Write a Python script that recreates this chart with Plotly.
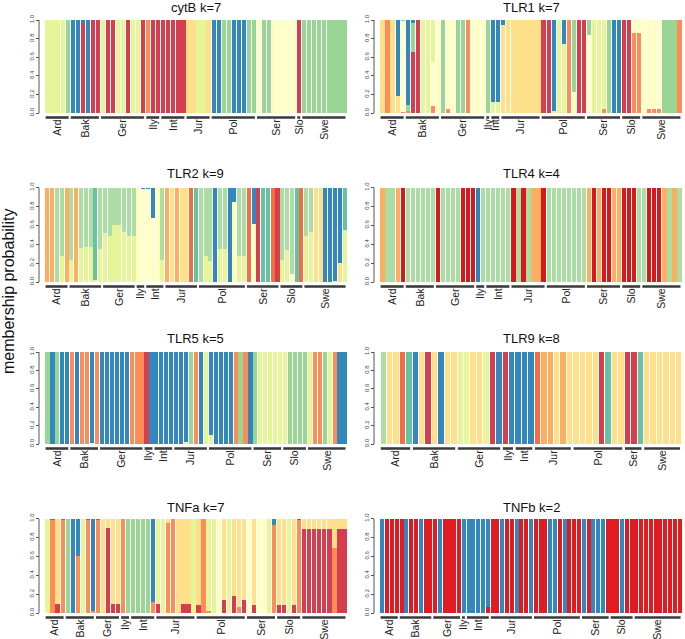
import plotly.graph_objects as go

W, H = 685, 639

# ---------------- palettes (cluster order = stacking order, bottom -> top) ----------------
PAL_K7 = {"R": "#D53E4F", "O": "#FC8D59", "Y": "#FEE08B", "P": "#FFFFBF",
          "L": "#E6F598", "G": "#99D594", "B": "#3288BD"}
PAL_K9 = {"R": "#D53E4F", "O": "#F46D43", "o": "#FDAE61", "Y": "#FEE08B", "P": "#FFFFBF",
          "L": "#E6F598", "G": "#ABDDA4", "T": "#66C2A5", "B": "#3288BD"}
PAL_K4 = {"R": "#D7191C", "O": "#FDAE61", "G": "#ABDDA4", "B": "#2B83BA"}
PAL_K5 = {"R": "#D53E4F", "O": "#FC8D59", "L": "#E6F598", "G": "#99D594", "B": "#3288BD"}
PAL_K8 = {"R": "#D53E4F", "O": "#F46D43", "o": "#FDAE61", "Y": "#FEE08B",
          "L": "#E6F598", "G": "#ABDDA4", "T": "#66C2A5", "B": "#3288BD"}
PAL_K2 = {"R": "#E01B22", "B": "#3288BD"}

# ---------------- membership data (one string per individual: cluster+share, last = remainder) ----
CYTB_BARS = ["L", "L", "L", "L", "G",
             "B", "B", "R.97 B", "B", "R", "R",
             "L", "R", "R", "L", "L", "R", "L", "L", "R",
             "O", "R", "R",
             "R", "R", "R", "R", "R",
             "Y", "Y", "L", "L", "Y",
             "B", "B", "G", "G", "B", "B", "B", "G", "G",
             "P", "G", "G", "P", "P", "P", "P", "P",
             "R",
             "G", "G", "G", "G", "G", "G", "G", "G", "G"]
CYTB_GROUPS = [("Ard", 5), ("Bak", 6), ("Ger", 9), ("Ily", 3), ("Int", 5), ("Jur", 5),
               ("Pol", 9), ("Ser", 8), ("Slo", 1), ("Swe", 9)]

TLR1_BARS = ["Y", "O", "Y", "Y.18 B", "O.01 P.98 G",
             "O.02 G.07 B", "R.66 G.31 B", "R", "L", "L", "O.07 P.48 L", "P",
             "G", "O.04 P", "P", "G", "G", "O", "P", "P", "P",
             "G",
             "L.12 B", "L.12 B",
             "Y.95 B", "Y", "Y", "Y", "Y", "Y", "Y", "Y",
             "R", "R", "L.02 B", "L", "L.74 B", "O", "P.23 G", "R", "R",
             "P.84 G", "L", "L", "O.04 L", "G", "B", "B",
             "R", "R", "O.86 P", "O.86 P",
             "P", "O.04 P", "O.04 P", "O.04 P", "G", "G", "G", "O"]
TLR1_GROUPS = [("Ard", 5), ("Bak", 7), ("Ger", 9), ("Ily", 1), ("Int", 2), ("Jur", 8),
               ("Pol", 9), ("Ser", 7), ("Slo", 4), ("Swe", 8)]

TLR2_BARS = ["o", "o", "G", "L.28 G", "o",
             "L.23 G", "o", "L.36 G", "L.37 G", "L.37 G", "L.02 T", "L.35 G",
             "L.52 G", "L.49 G", "L.60 G", "L.60 G", "L.53 G", "L.49 G", "L.49 G",
             "P", "P.98 B",
             "P.98 B", "P.68 B", "P", "L.23 G",
             "o", "Y", "o", "Y", "Y", "O", "T",
             "G", "L.27 G", "L.22 G", "B", "L.35 G", "L.35 G", "B", "P.85 B", "L.28 G", "L.27 G",
             "O", "P.61 B", "R", "T", "T", "O", "R",
             "L.23 G", "L.34 G", "P.08 G", "T", "O",
             "L.49 G", "L.53 G", "Y", "Y", "B", "B", "L.01 B", "Y.2 B", "L.55 T"]
TLR2_GROUPS = [("Ard", 5), ("Bak", 7), ("Ger", 7), ("Ily", 2), ("Int", 4), ("Jur", 7),
               ("Pol", 10), ("Ser", 7), ("Slo", 5), ("Swe", 9)]

TLR4_BARS = ["O", "G", "G", "O", "R",
             "G", "G", "G", "G", "G", "G",
             "R", "G", "G", "G", "G", "R", "R", "R",
             "B", "G",
             "G", "G", "G", "G", "G",
             "R", "G", "R", "G", "O", "O", "R",
             "G", "G", "G", "G", "G", "G", "G", "G",
             "O", "R", "O", "R", "R", "O", "O",
             "R", "R", "R", "G",
             "G", "R", "R", "R", "O", "G", "O", "G"]
TLR4_GROUPS = [("Ard", 5), ("Bak", 6), ("Ger", 8), ("Ily", 2), ("Int", 5), ("Jur", 7),
               ("Pol", 8), ("Ser", 7), ("Slo", 4), ("Swe", 8)]

TLR5_BARS = ["G", "B", "G", "B", "B",
             "O", "B", "O", "O", "L.01 B", "O",
             "B", "B", "B", "B", "B", "B", "O", "O", "O",
             "R", "B",
             "B", "B", "B", "B",
             "B", "B", "L.02 B", "G", "O", "B", "L",
             "L.1 B", "B", "B", "B", "B", "O", "G", "O", "B",
             "G", "L", "L", "L", "L", "L",
             "L", "G", "G", "G", "G",
             "L", "O", "O", "G", "L", "O", "B", "B"]
TLR5_GROUPS = [("Ard", 5), ("Bak", 6), ("Ger", 9), ("Ily", 2), ("Int", 4), ("Jur", 7),
               ("Pol", 9), ("Ser", 6), ("Slo", 5), ("Swe", 8)]

TLR9_BARS = ["G", "Y", "Y", "O", "T",
             "B", "Y", "R", "Y", "B", "Y", "Y",
             "L", "L", "Y", "Y", "L", "R", "B",
             "R", "B",
             "B", "B", "B",
             "O", "o", "o", "Y", "o", "Y",
             "Y", "Y", "Y", "Y", "R", "T", "Y", "Y",
             "R", "R", "T",
             "Y", "Y", "Y", "Y", "Y", "Y"]
TLR9_GROUPS = [("Ard", 5), ("Bak", 7), ("Ger", 7), ("Ily", 2), ("Int", 3), ("Jur", 6),
               ("Pol", 8), ("Ser", 3), ("Swe", 6)]

TNFA_BARS = ["L", "O.98 B", "R.1 Y", "O.98 B",
             "G", "B", "O.6 B", "L", "O.98 B", "O.02 B",
             "O.98 B", "Y", "R.9 Y", "R.09 Y", "R.09 Y",
             "O", "G",
             "G", "G", "G", "G", "O.12 B",
             "R.1 L", "L", "O.95 Y", "O.99 B", "Y", "R.1 Y", "R.1 Y", "L",
             "R.08 Y", "O.99 B", "O.02 L", "L", "P", "R.14 Y", "L", "R.18 Y", "O.06 Y", "R.14 Y",
             "P", "R.08 Y", "P", "P", "L", "O.93 B",
             "R.08 Y", "R.08 Y", "L", "R.08 Y", "O.98 B",
             "R.89 Y", "R.89 Y", "R.89 Y", "R.89 Y", "R.89 Y", "R.89 Y", "O.69 Y", "R.89 Y", "R.89 Y"]
TNFA_GROUPS = [("Ard", 4), ("Bak", 6), ("Ger", 5), ("Ily", 2), ("Int", 5), ("Jur", 8),
               ("Pol", 10), ("Ser", 6), ("Slo", 5), ("Swe", 9)]

TNFB_BARS = ["B", "R", "R", "R",
             "R", "B", "R", "R", "B", "R", "R",
             "R", "B", "R", "R", "R", "R",
             "B",
             "B", "B", "B", "B", "R.06 B",
             "R", "R", "B", "R", "R", "B", "R", "R", "B",
             "R", "R", "R", "B", "B", "R", "B", "R", "R", "R",
             "B", "R", "B", "B", "B", "R",
             "R", "R", "B", "R", "R",
             "R", "R", "R", "R", "R", "R", "R", "R", "R", "R"]
TNFB_GROUPS = [("Ard", 4), ("Bak", 7), ("Ger", 6), ("Ily", 1), ("Int", 5), ("Jur", 9),
               ("Pol", 10), ("Ser", 6), ("Slo", 5), ("Swe", 10)]

TITLES = ["cytB k=7", "TLR1 k=7", "TLR2 k=9", "TLR4 k=4",
          "TLR5 k=5", "TLR9 k=8", "TNFa k=7", "TNFb k=2"]
Y_TICKS = [0, 0.2, 0.4, 0.6, 0.8, 1.0]
Y_TICK_TEXT = ["0.0", "0.2", "0.4", "0.6", "0.8", "1.0"]
Y_LABEL = "membership probability"

PANELS = [
    (TITLES[0], CYTB_BARS, CYTB_GROUPS, PAL_K7, 0, 0),
    (TITLES[1], TLR1_BARS, TLR1_GROUPS, PAL_K7, 1, 0),
    (TITLES[2], TLR2_BARS, TLR2_GROUPS, PAL_K9, 0, 1),
    (TITLES[3], TLR4_BARS, TLR4_GROUPS, PAL_K4, 1, 1),
    (TITLES[4], TLR5_BARS, TLR5_GROUPS, PAL_K5, 0, 2),
    (TITLES[5], TLR9_BARS, TLR9_GROUPS, PAL_K8, 1, 2),
    (TITLES[6], TNFA_BARS, TNFA_GROUPS, PAL_K7, 0, 3),
    (TITLES[7], TNFB_BARS, TNFB_GROUPS, PAL_K2, 1, 3),
]

# ---------------- layout geometry (pixels) ----------------
COLS = [(45, 347, 39), (380, 682, 374)]          # bar-area left, right, y-axis line x
ROWS = [(20, 113, 7), (187.5, 282, 173), (352, 444, 338), (518.5, 613, 507)]  # y(1.0), y(0.0), title y
YMIN = -0.035
LINE_OFFSET_PX = 4.5
FONT = "Liberation Sans, Arial, sans-serif"


def parse(bars, keys):
    cols = {k: [] for k in keys}
    for s in bars:
        vals, rest = {}, None
        for tok in s.split():
            k, v = tok[0], tok[1:]
            if v:
                vals[k] = float(v)
            else:
                rest = k
        if rest is not None:
            vals[rest] = max(0.0, 1.0 - sum(vals.values()))
        for k in keys:
            cols[k].append(vals.get(k, 0.0))
    return cols


fig = go.Figure()
layout = dict(width=W, height=H, margin=dict(l=0, r=0, t=0, b=0, autoexpand=False),
              paper_bgcolor="white", plot_bgcolor="white", barmode="stack",
              bargap=0.16, showlegend=False, hovermode=False,
              font=dict(family=FONT, color="#111"))
shapes, annotations = [], []

for i, (title, bars, groups, pal, c, r) in enumerate(PANELS):
    n = i + 1
    xs = "" if n == 1 else str(n)
    xname, yname = "x" + xs, "y" + xs
    x0px, x1px, axpx = COLS[c]
    top, zero, tpx = ROWS[r]
    bottom = zero + (-YMIN) * (zero - top)
    keys = list(pal.keys())
    cols = parse(bars, keys)
    idx = list(range(len(bars)))
    for k in keys:
        fig.add_trace(go.Bar(x=idx, y=cols[k], marker=dict(color=pal[k], line=dict(width=0)),
                             xaxis=xname, yaxis=yname, hoverinfo="skip", showlegend=False))
    # group centres / lines
    centers, names = [], []
    start = 0
    line_y = 1 - (zero + LINE_OFFSET_PX) / H
    for name, cnt in groups:
        end = start + cnt - 1
        centers.append((start + end) / 2)
        names.append(name)
        shapes.append(dict(type="line", xref=xname, yref="paper",
                           x0=start - 0.5 + 0.12, x1=end + 0.5 - 0.3, y0=line_y, y1=line_y,
                           line=dict(color="#3a3a3a", width=2.6)))
        start = end + 1
    layout["xaxis" + xs] = dict(domain=[x0px / W, x1px / W], anchor=yname, automargin=False,
                                range=[-0.5, len(bars) - 0.5], showgrid=False, zeroline=False,
                                showline=False, ticks="", tickvals=centers, ticktext=names,
                                tickangle=-90, tickfont=dict(size=10.5, color="#222", family=FONT),
                                fixedrange=True)
    layout["yaxis" + xs] = dict(domain=[1 - bottom / H, 1 - top / H], anchor="free",
                                automargin=False,
                                position=axpx / W, range=[YMIN, 1.0], showgrid=False,
                                zeroline=False, showline=False, tickvals=Y_TICKS,
                                ticktext=Y_TICK_TEXT, ticks="outside", ticklen=3, tickwidth=1,
                                tickcolor="#555", tickangle=-90,
                                tickfont=dict(size=6, color="#444", family=FONT),
                                fixedrange=True)
    shapes.append(dict(type="line", xref="paper", yref=yname, x0=axpx / W, x1=axpx / W,
                       y0=0, y1=1, line=dict(color="#555", width=1)))
    annotations.append(dict(text=title, xref="paper", yref="paper",
                            x=(x0px + x1px) / 2 / W, y=1 - tpx / H, showarrow=False,
                            xanchor="center", yanchor="middle",
                            font=dict(size=13, color="#111", family=FONT)))

annotations.append(dict(text=Y_LABEL, xref="paper", yref="paper", x=9 / W, y=1 - 292 / H,
                        showarrow=False, textangle=-90, xanchor="center", yanchor="middle",
                        font=dict(size=16, color="#111", family=FONT)))
layout["shapes"] = shapes
layout["annotations"] = annotations
fig.update_layout(**layout)
fig.write_html("out.html", config={"displayModeBar": False, "staticPlot": True},
               post_script="document.body.style.margin='0';")
